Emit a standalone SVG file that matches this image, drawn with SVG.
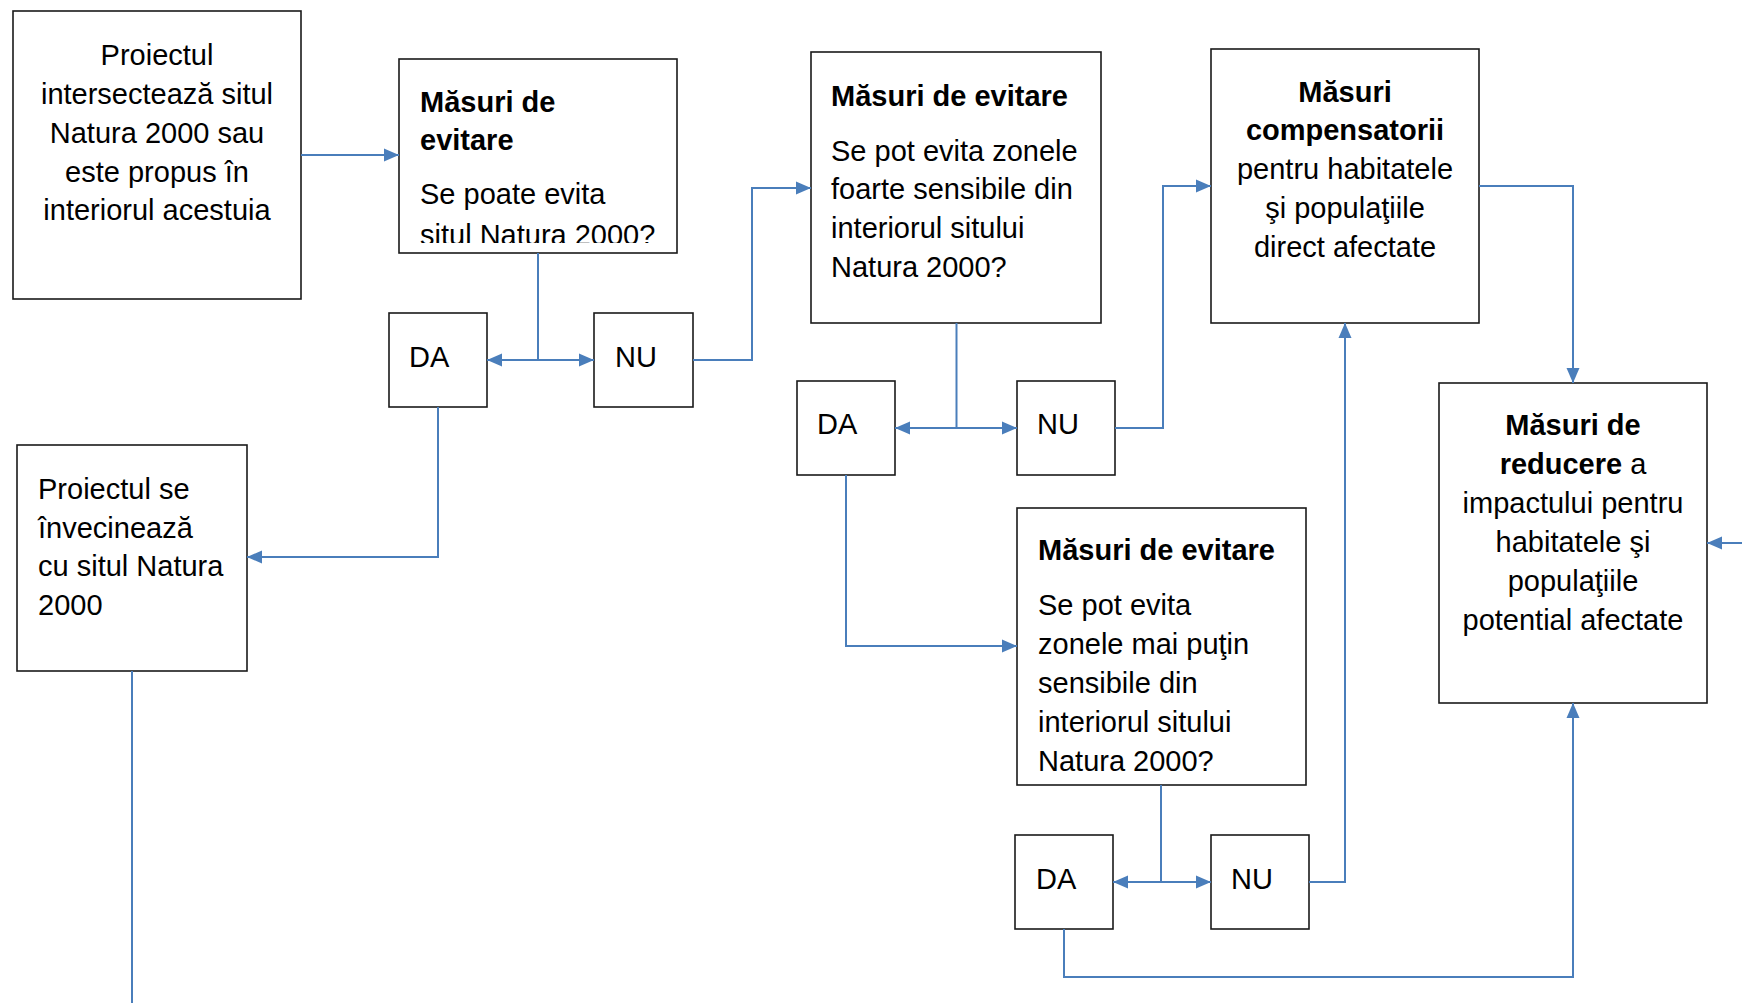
<svg xmlns="http://www.w3.org/2000/svg" width="1742" height="1003" viewBox="0 0 1742 1003">
<style>
.box{fill:#fff;stroke:#1a1a1a;stroke-width:1.6}
text{font-family:"Liberation Sans",Arial,sans-serif;font-size:29px;fill:#000}
.b{font-weight:bold}
.c{text-anchor:middle}
.ln{fill:none;stroke:#4A7EBB;stroke-width:2}
.a{marker-end:url(#arr)}
.aa{marker-start:url(#arr);marker-end:url(#arr)}
</style>
<defs>
<marker id="arr" viewBox="0 0 15 14" refX="15" refY="7" markerWidth="15" markerHeight="14" markerUnits="userSpaceOnUse" orient="auto-start-reverse">
<path d="M0,0.5 L15,7 L0,13.5 z" fill="#4A7EBB"/>
</marker>
<clipPath id="clip2"><rect x="399" y="59" width="278" height="184"/></clipPath>
</defs>

<g id="n1">
<rect class="box" x="13" y="11" width="288" height="288"/>
<text class="c" x="157" y="65">Proiectul</text>
<text class="c" x="157" y="104">intersectează situl</text>
<text class="c" x="157" y="143">Natura 2000 sau</text>
<text class="c" x="157" y="182">este propus în</text>
<text class="c" x="157" y="220">interiorul acestuia</text>
</g>

<g id="n2">
<rect class="box" x="399" y="59" width="278" height="194"/>
<g clip-path="url(#clip2)">
<text class="b" x="420" y="112">Măsuri de</text>
<text class="b" x="420" y="150">evitare</text>
<text x="420" y="204">Se poate evita</text>
<text x="420" y="245">situl Natura 2000?</text>
</g>
</g>

<g id="da1">
<rect class="box" x="389" y="313" width="98" height="94"/>
<text x="409" y="367">DA</text>
</g>
<g id="nu1">
<rect class="box" x="594" y="313" width="99" height="94"/>
<text x="615" y="367">NU</text>
</g>

<g id="n3">
<rect class="box" x="811" y="52" width="290" height="271"/>
<text class="b" x="831" y="106">Măsuri de evitare</text>
<text x="831" y="161">Se pot evita zonele</text>
<text x="831" y="199">foarte sensibile din</text>
<text x="831" y="238">interiorul sitului</text>
<text x="831" y="277">Natura 2000?</text>
</g>

<g id="da2">
<rect class="box" x="797" y="381" width="98" height="94"/>
<text x="817" y="434">DA</text>
</g>
<g id="nu2">
<rect class="box" x="1017" y="381" width="98" height="94"/>
<text x="1037" y="434">NU</text>
</g>

<g id="n4">
<rect class="box" x="1211" y="49" width="268" height="274"/>
<text class="c b" x="1345" y="102">Măsuri</text>
<text class="c b" x="1345" y="140">compensatorii</text>
<text class="c" x="1345" y="179">pentru habitatele</text>
<text class="c" x="1345" y="218">şi populaţiile</text>
<text class="c" x="1345" y="257">direct afectate</text>
</g>

<g id="n5">
<rect class="box" x="1439" y="383" width="268" height="320"/>
<text class="c b" x="1573" y="435">Măsuri de</text>
<text class="c" x="1573" y="474"><tspan class="b">reducere</tspan> a</text>
<text class="c" x="1573" y="513">impactului pentru</text>
<text class="c" x="1573" y="552">habitatele şi</text>
<text class="c" x="1573" y="591">populaţiile</text>
<text class="c" x="1573" y="630">potential afectate</text>
</g>

<g id="n6">
<rect class="box" x="1017" y="508" width="289" height="277"/>
<text class="b" x="1038" y="560">Măsuri de evitare</text>
<text x="1038" y="615">Se pot evita</text>
<text x="1038" y="654">zonele mai puţin</text>
<text x="1038" y="693">sensibile din</text>
<text x="1038" y="732">interiorul sitului</text>
<text x="1038" y="771">Natura 2000?</text>
</g>

<g id="da3">
<rect class="box" x="1015" y="835" width="98" height="94"/>
<text x="1036" y="889">DA</text>
</g>
<g id="nu3">
<rect class="box" x="1211" y="835" width="98" height="94"/>
<text x="1231" y="889">NU</text>
</g>

<g id="n7">
<rect class="box" x="17" y="445" width="230" height="226"/>
<text x="38" y="499">Proiectul se</text>
<text x="38" y="538">învecinează</text>
<text x="38" y="576">cu situl Natura</text>
<text x="38" y="615">2000</text>
</g>

<g id="connectors">
<path class="ln a" d="M301,155 H399"/>
<path class="ln" d="M538,253 V360"/>
<path class="ln aa" d="M487,360 H594"/>
<path class="ln a" d="M693,360 H752 V188 H811"/>
<path class="ln a" d="M438,407 V557 H247"/>
<path class="ln" d="M132,671 V1003"/>
<path class="ln" d="M956.5,323 V428"/>
<path class="ln aa" d="M895,428 H1017"/>
<path class="ln a" d="M1115,428 H1163 V186 H1211"/>
<path class="ln a" d="M1479,186 H1573 V383"/>
<path class="ln a" d="M846,475 V646 H1017"/>
<path class="ln" d="M1161,785 V882"/>
<path class="ln aa" d="M1113,882 H1211"/>
<path class="ln a" d="M1309,882 H1345 V323"/>
<path class="ln a" d="M1064,929 V977 H1573 V703"/>
<path class="ln a" d="M1742,543 H1707"/>
</g>
</svg>
